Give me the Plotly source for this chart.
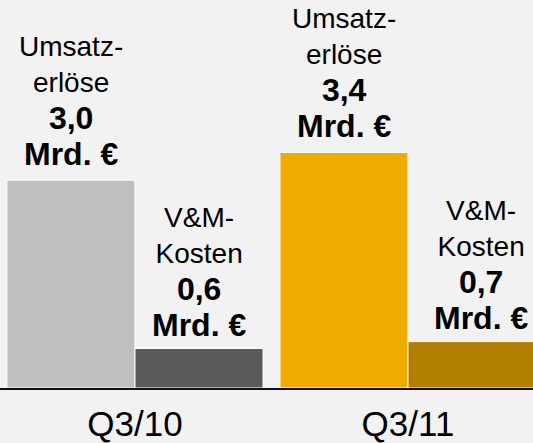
import plotly.graph_objects as go

# Quarters on the x axis
quarters = ['Q3/10', 'Q3/11']

# Umsatzerlöse (revenue) and V&M-Kosten (S&M costs) in Mrd. €
umsatz = [3.0, 3.4]
vm_kosten = [0.57, 0.67]

umsatz_colors = ['#bfbfbf', '#f0ab00']
vm_colors = ['#5a5a5a', '#b27f00']

FONT = 'Liberation Sans, Arial, sans-serif'


def label(title, value):
    # regular title lines, then bold value + unit a bit larger
    num = f'{value:.1f}'.replace('.', ',')
    return (f'{title}<br><span style="font-size:32px"><b>{num}</b></span>'
            f'<br><span style="font-size:32px"><b>Mrd. €</b></span>')


fig = go.Figure()

fig.add_trace(go.Bar(
    x=quarters,
    y=umsatz,
    name='Umsatzerlöse',
    marker=dict(color=umsatz_colors, line=dict(color='white', width=1)),
    hoverinfo='skip',
))

fig.add_trace(go.Bar(
    x=quarters,
    y=vm_kosten,
    name='V&M-Kosten',
    marker=dict(color=vm_colors, line=dict(color='white', width=1)),
    hoverinfo='skip',
))

# labels sit above each bar; half a bar is ~64 px left/right of the category centre
for q, v in zip(quarters, umsatz):
    fig.add_annotation(x=q, y=v, xref='x', yref='y', text=label('Umsatz-<br>erlöse', v),
                       showarrow=False, yanchor='bottom', xshift=-64, yshift=6,
                       font=dict(family=FONT, size=28, color='black'))

for i, (q, v) in enumerate(zip(quarters, vm_kosten)):
    # the right-most label is drawn a bit off-centre in the original
    fig.add_annotation(x=q, y=v, xref='x', yref='y', text=label('V&M-<br>Kosten', v),
                       showarrow=False, yanchor='bottom', xshift=64 + 9 * i, yshift=4,
                       font=dict(family=FONT, size=28, color='black'))

fig.update_layout(
    width=533,
    height=443,
    barmode='group',
    bargap=0.062,
    bargroupgap=0,
    showlegend=False,
    plot_bgcolor='#f2f2f2',
    paper_bgcolor='#f2f2f2',
    margin=dict(l=0, r=0, t=0, b=53),
    font=dict(family=FONT, color='black'),
    xaxis=dict(
        range=[-0.4945, 1.458],
        showline=True,
        linecolor='#111111',
        linewidth=2,
        ticks='',
        showgrid=False,
        tickfont=dict(size=35),
        ticklabelstandoff=4,
    ),
    yaxis=dict(
        range=[0, 5.6],
        visible=False,
        showgrid=False,
        zeroline=False,
    ),
)

# drop the default page margin so the figure fills the window
fig.write_html(
    'out.html',
    config={'displayModeBar': False},
    post_script="document.body.style.margin='0';document.body.style.overflow='hidden';",
)
